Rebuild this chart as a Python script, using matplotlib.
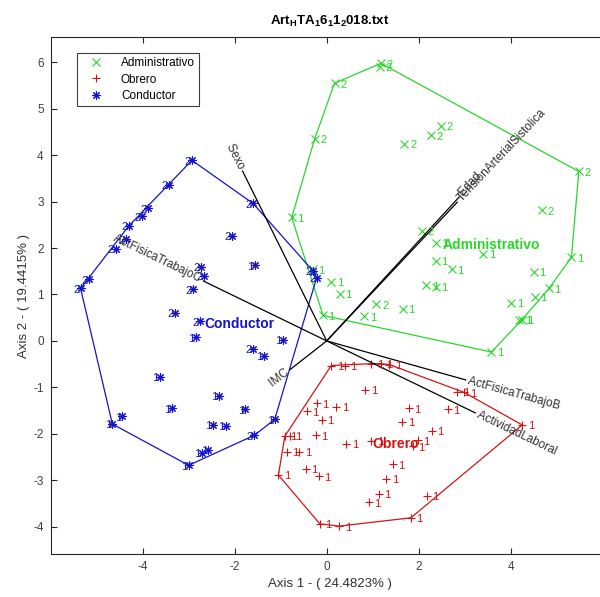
"""
Biplot de componentes principales con envolventes convexas por grupo
(Administrativo / Obrero / Conductor), estilo figura de MATLAB.
"""

import numpy as np
import matplotlib
matplotlib.use("Agg")
import matplotlib.pyplot as plt

plt.rcParams["font.family"] = ["Liberation Sans", "DejaVu Sans"]
plt.rcParams["mathtext.fontset"] = "custom"
plt.rcParams["mathtext.rm"] = "Liberation Sans"
plt.rcParams["mathtext.bf"] = "Liberation Sans:bold"
plt.rcParams["axes.unicode_minus"] = False

# ─── datos ────────────────────────────────────────────────────────────────

admin_x = [1.18, 1.15, 0.17, -0.26, -0.76, -0.30, 0.10, 0.28, -0.08, 1.08, 0.82, 1.65,
           1.69, 2.27, 2.48, 2.07, 2.37, 2.37, 2.72, 2.16, 2.37, 3.40, 5.48, 4.68,
           5.32, 4.50, 4.83, 4.52, 4.01, 4.19, 4.24, 3.58]
admin_y = [5.98, 5.91, 5.55, 4.36, 2.66, 1.54, 1.27, 1.02, 0.55, 0.79, 0.53, 0.69,
           4.25, 4.43, 4.63, 2.37, 2.11, 1.72, 1.54, 1.20, 1.17, 1.87, 3.65, 2.81,
           1.80, 1.49, 1.13, 0.95, 0.82, 0.45, 0.45, -0.24]
admin_lab = ["2", "2", "2", "2", "1", "1", "1", "1", "1", "2", "1", "1",
             "2", "2", "2", "2", "1", "1", "1", "1", "1", "1", "2", "2",
             "1", "1", "1", "1", "1", "1", "1", "1"]

obrero_x = [0.10, 0.39, 0.97, 1.18, 1.36, 2.84, 2.99, 4.25, 0.84, -0.22, -0.43, 0.21,
            -0.11, 1.78, 2.63, 1.64, 2.28, -0.80, -0.91, -0.24, 0.43, 0.97, 1.98, 1.87,
            -0.87, -0.60, -1.05, -0.45, -0.17, 1.44, 1.29, 1.13, 0.91, 2.17, -0.15, 0.27,
            1.83]
obrero_y = [-0.53, -0.53, -0.49, -0.49, -0.51, -1.09, -1.11, -1.81, -1.05, -1.34, -1.52, -1.42,
            -1.70, -1.45, -1.47, -1.74, -1.94, -2.05, -2.05, -2.03, -2.22, -2.15, -2.14, -2.27,
            -2.39, -2.39, -2.89, -2.75, -2.92, -2.66, -2.97, -3.29, -3.48, -3.33, -3.94, -3.99,
            -3.81]
obrero_lab = ["1"] * len(obrero_x)

cond_x = [-2.93, -3.43, -3.89, -4.01, -4.30, -4.37, -4.59, -5.17, -5.35, -4.66, -4.44, -3.00,
          -2.71, -2.57, -1.57, -1.13, -1.77, -2.47, -2.19, -2.35, -3.36, -3.63, -2.84, -2.75,
          -3.29, -2.91, -2.66, -2.73, -2.06, -1.56, -1.60, -0.30, -0.22, -1.60, -1.36, -0.95]
cond_y = [3.89, 3.36, 2.86, 2.68, 2.48, 2.19, 1.99, 1.33, 1.13, -1.79, -1.62, -2.68,
          -2.41, -2.35, -2.03, -1.69, -1.47, -1.81, -1.83, -1.18, -1.45, -0.77, 0.08, 0.42,
          0.61, 1.11, 1.40, 1.60, 2.26, 1.63, 2.96, 1.51, 1.36, -0.17, -0.32, 0.03]
cond_lab = ["2", "2", "2", "2", "2", "2", "2", "2", "2", "1", "1", "1",
            "1", "1", "2", "1", "1", "1", "1", "1", "1", "1", "1", "2",
            "2", "2", "2", "2", "2", "1", "2", "2", "2", "2", "1", "1"]

# vectores de variables (cargas)
var_names = ["Sexo", "ActFisicaTrabajoC", "IMC", "ActFisicaTrabajoB",
             "ActividadLaboral", "Edad", "TensionArterialSistolica"]
var_x = [-1.83, -2.68, -0.80, 3.02, 3.23, 2.88, 2.84]
var_y = [3.66, 1.29, -0.62, -0.84, -1.55, 3.10, 2.99]

# posición de los nombres de grupo
group_names = ["Administrativo", "Obrero", "Conductor"]
group_tx = [3.58, 1.50, -1.90]
group_ty = [2.06, -2.23, 0.37]

GREEN = "#2bd62b"
RED = "#d41414"
BLUE = "#1414c8"


def convex_hull(xs, ys):
    """Envolvente convexa (monotone chain), devuelve polígono cerrado."""
    pts = sorted(set(zip(xs, ys)))

    def cross(o, a, b):
        return (a[0] - o[0]) * (b[1] - o[1]) - (a[1] - o[1]) * (b[0] - o[0])

    lower, upper = [], []
    for p in pts:
        while len(lower) >= 2 and cross(lower[-2], lower[-1], p) <= 0:
            lower.pop()
        lower.append(p)
    for p in reversed(pts):
        while len(upper) >= 2 and cross(upper[-2], upper[-1], p) <= 0:
            upper.pop()
        upper.append(p)
    hull = lower[:-1] + upper[:-1]
    hull.append(hull[0])
    return [p[0] for p in hull], [p[1] for p in hull]


fig = plt.figure(figsize=(6.0, 5.97), dpi=100)
# ejes a mano: el borde derecho queda fuera de la imagen, como en el original
ax = fig.add_axes([50.7 / 600, 43 / 597, 558 / 600, 516.7 / 597])
ax.set_xlim(-6.0, 6.13)
ax.set_ylim(-4.59, 6.54)

# asterisco de MATLAB ('*') = 8 brazos
ASTER = (8, 2, 0)

groups = [
    (admin_x, admin_y, admin_lab, GREEN, "x", "Administrativo", 4, "left"),
    (obrero_x, obrero_y, obrero_lab, RED, "+", "Obrero", 4, "left"),
    (cond_x, cond_y, cond_lab, BLUE, ASTER, "Conductor", -1, "right"),
]

for xs, ys, labs, col, mk, name, dx, ha in groups:
    hx, hy = convex_hull(xs, ys)
    ax.plot(hx, hy, "-", color=col, lw=0.9)
    ax.plot(xs, ys, linestyle="none", marker=mk, color=col, markersize=6,
            markeredgewidth=0.8, label=name)
    for x, y, t in zip(xs, ys, labs):
        ax.annotate(t, (x, y), textcoords="offset points", xytext=(dx, -1),
                    ha=ha, va="center", fontsize=8, color=col)

# vectores del biplot
for name, vx, vy in zip(var_names, var_x, var_y):
    ax.plot([0, vx], [0, vy], "-", color="black", lw=0.9)
    ang = np.degrees(np.arctan2(vy, vx))
    if vx >= 0:
        rot, ha = ang, "left"
    else:
        rot, ha = ang - 180, "right"
    ax.text(vx, vy, " " + name + " ", rotation=rot, rotation_mode="anchor",
            ha=ha, va="center", fontsize=8.5, color="#303030")

for name, tx, ty, col in zip(group_names, group_tx, group_ty, [GREEN, RED, BLUE]):
    ax.text(tx, ty, name, ha="center", va="center", fontsize=10,
            fontweight="bold", color=col)

ax.set_xticks([-4, -2, 0, 2, 4])
ax.set_yticks([-4, -3, -2, -1, 0, 1, 2, 3, 4, 5, 6])
ax.tick_params(direction="in", length=4, width=0.8, top=True, right=True,
               labelsize=8.5, colors="#262626", labelcolor="#404040", pad=5)
for sp in ax.spines.values():
    sp.set_color("#262626")
    sp.set_linewidth(0.8)

ax.set_xlabel("Axis 1 - ( 24.4823% )", fontsize=9.5, color="#303030", labelpad=4)
ax.set_ylabel("Axis 2 - ( 19.4415% )", fontsize=9.5, color="#303030", labelpad=2)
ax.set_title(r"$\mathbf{Art_{H}TA_{1}6_{1}1_{2}}$018.txt", fontsize=9.5,
             fontweight="bold", pad=9)

leg = ax.legend(loc="upper left", bbox_to_anchor=(26 / 558, 1 - 16 / 516.7),
                borderaxespad=0, fontsize=8.5, frameon=True, fancybox=False,
                edgecolor="#404040", framealpha=1, handlelength=2.5,
                handletextpad=0.9, labelspacing=0.35, borderpad=0.35)
leg.get_frame().set_linewidth(0.8)

fig.savefig("out.png", dpi=100)
